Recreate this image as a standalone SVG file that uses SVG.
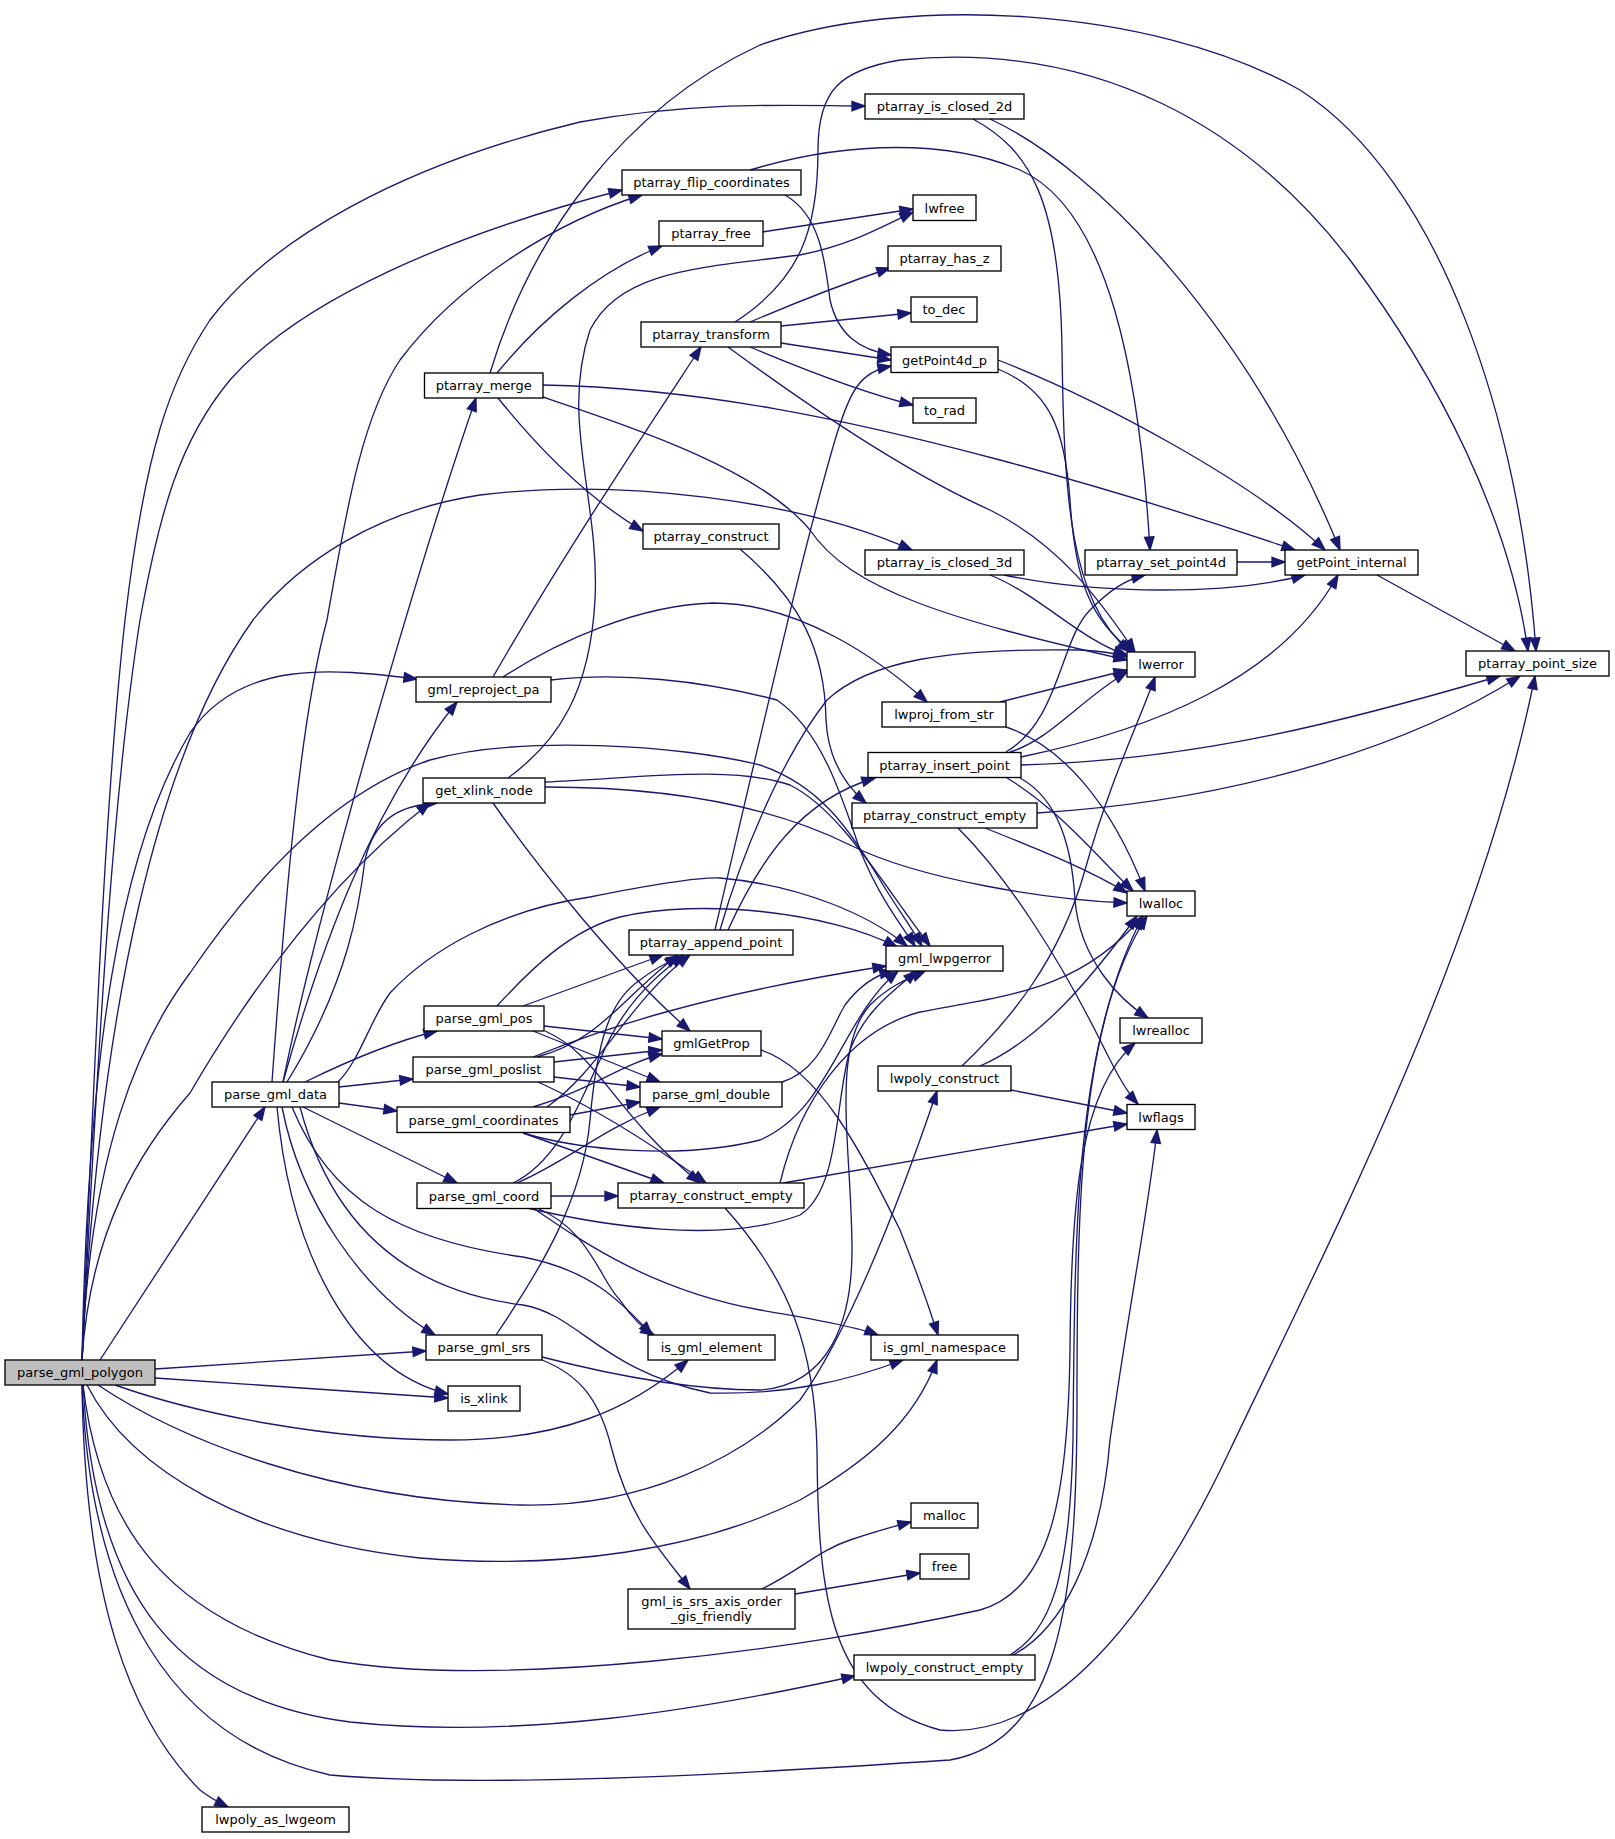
<svg xmlns="http://www.w3.org/2000/svg" width="1615" height="1839" viewBox="0 0 1615 1839">
<defs>
<style>
.node rect{fill:#ffffff;stroke:#000000;stroke-width:1.33}
.node.root rect{fill:#bfbfbf}
.node text{font-family:"DejaVu Sans","Liberation Sans",sans-serif;font-size:13px;text-anchor:middle;fill:#000000}
.edges path{fill:none;stroke:#191970;stroke-width:1.33;marker-end:url(#arr)}
</style>
<marker id="arr" markerUnits="userSpaceOnUse" markerWidth="14" markerHeight="10" refX="13" refY="4.7" orient="auto" overflow="visible">
<path d="M0,0 L13,4.7 L0,9.4 Z" fill="#191970" stroke="#191970" stroke-width="1.33"/>
</marker>
</defs>
<rect x="0" y="0" width="1615" height="1839" fill="#ffffff"/>
<g id="edges" class="edges">
<path d="M82,1360 C95,1050 105,800 125,620 C145,450 170,380 210,320 C270,240 400,165 580,122 C700,100 800,106 865,106"/>
<path d="M82,1360 C100,1000 115,780 140,620 C160,510 180,440 230,380 C300,300 450,235 622,190"/>
<path d="M82,1360 C100,1000 160,750 253,620 C300,560 380,510 480,495 C620,478 800,500 912,550"/>
<path d="M82,1360 C88,1050 120,850 190,733 C240,660 330,668 417,679"/>
<path d="M82,1360 C90,1230 140,1150 190,1093 C250,990 330,880 430,803"/>
<path d="M82,1360 C90,1150 140,1040 190,973 C260,870 340,790 430,760 C520,735 680,745 760,765 C820,785 850,830 880,880 C895,905 910,925 922,946"/>
<path d="M100,1360 L265,1107"/>
<path d="M155,1369 L426,1351"/>
<path d="M155,1378 L448,1398"/>
<path d="M115,1385 C200,1415 330,1440 450,1440 C560,1440 630,1410 688,1360"/>
<path d="M98,1385 C180,1440 330,1500 520,1505 C640,1508 740,1460 800,1400 C850,1330 900,1200 937,1091"/>
<path d="M87,1385 C130,1470 250,1540 420,1558 C560,1570 700,1550 800,1500 C870,1460 915,1420 937,1360"/>
<path d="M83,1385 C100,1530 170,1620 330,1660 C500,1690 800,1650 980,1610 C1050,1590 1068,1500 1070,1350 C1071,1200 1080,1090 1135,1043"/>
<path d="M83,1385 C95,1600 180,1700 350,1722 C520,1740 700,1710 855,1676"/>
<path d="M82,1385 C90,1600 170,1740 330,1775 C500,1790 800,1770 950,1760 C1060,1740 1077,1600 1077,1400 C1077,1200 1080,1020 1147,916"/>
<path d="M82,1385 C85,1600 130,1720 200,1790 C210,1798 220,1803 228,1807"/>
<path d="M272,1082 C285,900 300,720 327,620 C345,520 360,420 400,360 C460,280 560,220 642,195"/>
<path d="M283,1082 C320,900 420,560 476,398"/>
<path d="M283,1082 C320,950 370,810 457,702"/>
<path d="M287,1082 C350,980 360,900 365,860 C375,815 405,805 437,803"/>
<path d="M305,1082 C360,1055 400,1040 437,1031"/>
<path d="M339,1087 L413,1079"/>
<path d="M339,1103 L397,1111"/>
<path d="M303,1107 L457,1183"/>
<path d="M282,1107 C300,1200 360,1290 435,1335"/>
<path d="M277,1107 C290,1250 350,1370 448,1394"/>
<path d="M292,1107 C330,1200 400,1240 523,1257 C590,1270 620,1300 652,1335"/>
<path d="M300,1107 C330,1220 400,1290 523,1305 C580,1315 600,1370 710,1393 C790,1395 850,1380 903,1360"/>
<path d="M338,1082 C360,1060 370,1020 390,993 C430,950 500,910 590,897 C650,885 700,877 720,878 C800,885 870,915 907,946"/>
<path d="M523,1006 L663,955"/>
<path d="M544,1026 L662,1039"/>
<path d="M533,1031 L660,1082"/>
<path d="M545,1031 C600,1055 610,1110 700,1183"/>
<path d="M497,1006 C530,970 570,930 620,917 C700,898 830,912 897,947"/>
<path d="M537,1057 C600,1040 620,1000 678,955"/>
<path d="M533,1057 C600,1030 700,995 886,966"/>
<path d="M554,1062 L662,1050"/>
<path d="M554,1077 L640,1087"/>
<path d="M538,1082 C600,1110 660,1150 706,1183"/>
<path d="M533,1107 C590,1090 620,1065 662,1054"/>
<path d="M547,1107 C600,1070 630,1000 690,955"/>
<path d="M570,1115 L640,1102"/>
<path d="M523,1133 L664,1183"/>
<path d="M523,1133 C580,1150 680,1160 760,1140 C830,1110 840,1020 898,971"/>
<path d="M551,1196 L618,1196"/>
<path d="M513,1183 C560,1160 580,1100 600,1060 C620,1010 650,980 684,955"/>
<path d="M517,1183 C570,1160 600,1130 660,1107"/>
<path d="M527,1208 C600,1225 720,1245 800,1215 C840,1190 835,1100 850,1050 C865,1010 895,990 917,971"/>
<path d="M537,1208 C590,1230 600,1280 620,1300 C630,1315 640,1327 654,1335"/>
<path d="M533,1208 C580,1240 650,1290 760,1310 C820,1320 860,1328 878,1335"/>
<path d="M496,1335 C540,1270 583,1200 590,1120 C597,1040 610,1000 640,980 C655,968 668,962 680,957"/>
<path d="M542,1360 C580,1375 600,1400 612,1450 C630,1520 660,1550 690,1589"/>
<path d="M542,1357 C600,1372 680,1390 760,1390 C830,1385 852,1320 852,1250 C852,1150 830,1050 870,1005 C890,985 910,978 925,971"/>
<path d="M715,930 C760,740 800,560 835,440 C850,390 860,372 891,366"/>
<path d="M720,930 C740,860 780,760 827,700 C870,660 950,648 1080,650 C1100,651 1115,653 1127,657"/>
<path d="M728,930 C760,860 800,800 875,778"/>
<path d="M761,1050 C820,1070 860,1150 900,1230 C920,1280 930,1310 938,1335"/>
<path d="M782,1082 C820,1070 830,1030 845,1005 C860,985 875,975 893,971"/>
<path d="M725,1208 C790,1280 815,1350 817,1450 C818,1600 830,1700 940,1730 C1050,1740 1150,1620 1230,1450 C1330,1240 1480,950 1535,676"/>
<path d="M780,1183 C800,1100 850,1030 920,1012 C1010,995 1080,990 1143,916"/>
<path d="M783,1183 L1127,1124"/>
<path d="M962,1066 C1010,1020 1060,960 1085,870 C1110,780 1140,720 1155,677"/>
<path d="M980,1066 C1040,1040 1090,980 1137,916"/>
<path d="M1011,1090 L1127,1113"/>
<path d="M1010,1655 C1050,1630 1070,1580 1073,1440 C1075,1250 1072,1050 1143,916"/>
<path d="M1013,1655 C1060,1630 1100,1560 1110,1440 C1130,1300 1150,1200 1157,1130"/>
<path d="M762,1589 C800,1570 820,1550 850,1540 C880,1530 895,1526 911,1522"/>
<path d="M795,1594 L920,1573"/>
<path d="M740,549 C800,600 825,650 826,720 C828,760 845,785 866,803"/>
<path d="M497,373 C540,320 600,270 662,246"/>
<path d="M498,398 C540,450 590,500 643,531"/>
<path d="M543,385 C700,388 850,420 1000,460 C1150,500 1250,535 1295,550"/>
<path d="M543,397 C640,430 760,470 810,530 C850,590 950,620 1127,660"/>
<path d="M490,373 C530,240 620,110 760,45 C900,-5 1150,5 1300,90 C1440,180 1520,420 1536,651"/>
<path d="M735,322 C800,280 818,230 818,150 C818,90 840,70 900,60 C1100,40 1250,130 1350,260 C1440,380 1510,520 1528,651"/>
<path d="M750,322 C790,305 840,285 890,268"/>
<path d="M781,326 L911,313"/>
<path d="M781,343 L891,360"/>
<path d="M750,347 C800,368 860,392 913,405"/>
<path d="M728,347 C800,400 900,470 990,510 C1060,545 1100,600 1135,652"/>
<path d="M785,195 C820,215 825,260 830,300 C838,335 860,350 891,355"/>
<path d="M750,170 C850,140 950,140 1020,170 C1110,210 1140,380 1150,550"/>
<path d="M762,232 L913,209"/>
<path d="M973,119 C1030,150 1060,200 1062,350 C1064,500 1070,600 1130,652"/>
<path d="M990,119 C1100,170 1250,330 1340,550"/>
<path d="M998,369 C1050,390 1065,430 1070,500 C1075,580 1090,620 1133,652"/>
<path d="M998,360 C1100,400 1250,480 1325,550"/>
<path d="M1004,575 C1100,595 1230,595 1305,575"/>
<path d="M990,575 C1040,595 1080,640 1127,655"/>
<path d="M1237,562 L1285,562"/>
<path d="M1377,575 L1515,651"/>
<path d="M1021,765 C1200,760 1350,720 1500,676"/>
<path d="M1010,752 C1050,740 1080,700 1127,672"/>
<path d="M1006,752 C1060,720 1060,640 1090,610 C1110,590 1125,580 1145,575"/>
<path d="M1021,757 C1150,730 1280,680 1338,575"/>
<path d="M1007,778 C1060,810 1100,860 1133,891"/>
<path d="M1020,778 C1060,800 1072,850 1075,900 C1080,960 1120,1000 1148,1018"/>
<path d="M1037,813 C1250,800 1420,740 1520,676"/>
<path d="M958,828 C1010,880 1060,960 1100,1040 C1115,1070 1125,1090 1138,1104"/>
<path d="M985,828 C1040,850 1090,870 1127,893"/>
<path d="M1000,702 L1127,670"/>
<path d="M1006,727 C1060,745 1110,800 1145,891"/>
<path d="M493,677 C560,560 640,440 701,347"/>
<path d="M503,677 C560,640 640,605 713,603 C800,603 880,660 927,702"/>
<path d="M551,680 C620,672 700,680 777,700 C820,730 840,790 860,850 C880,900 905,930 915,946"/>
<path d="M508,778 C560,740 590,690 595,600 C600,500 560,420 590,330 C620,270 700,268 800,255 C850,245 880,228 913,212"/>
<path d="M545,787 C650,787 760,800 850,845 C920,880 1050,900 1127,903"/>
<path d="M545,782 C640,778 730,765 790,785 C840,810 880,880 930,946"/>
<path d="M493,803 C540,870 620,970 690,1031"/>
</g>
<g id="n_parse_gml_polygon" class="node root"><rect x="5" y="1360" width="150" height="25"/><text x="80" y="1377.3">parse_gml_polygon</text></g>
<g id="n_lwpoly_as_lwgeom" class="node"><rect x="202" y="1807" width="147" height="25"/><text x="275.5" y="1824.3">lwpoly_as_lwgeom</text></g>
<g id="n_is_xlink" class="node"><rect x="448" y="1386" width="72" height="25"/><text x="484" y="1403.3">is_xlink</text></g>
<g id="n_parse_gml_srs" class="node"><rect x="426" y="1335" width="116" height="25"/><text x="484" y="1352.3">parse_gml_srs</text></g>
<g id="n_parse_gml_data" class="node"><rect x="212" y="1082" width="127" height="25"/><text x="275.5" y="1099.3">parse_gml_data</text></g>
<g id="n_ptarray_merge" class="node"><rect x="424.5" y="373" width="118.5" height="25"/><text x="483.7" y="390.3">ptarray_merge</text></g>
<g id="n_gml_reproject_pa" class="node"><rect x="416" y="677" width="135" height="25"/><text x="483.5" y="694.3">gml_reproject_pa</text></g>
<g id="n_get_xlink_node" class="node"><rect x="423" y="778" width="122" height="25"/><text x="484" y="795.3">get_xlink_node</text></g>
<g id="n_parse_gml_pos" class="node"><rect x="424" y="1006" width="120" height="25"/><text x="484" y="1023.3">parse_gml_pos</text></g>
<g id="n_parse_gml_poslist" class="node"><rect x="413" y="1057" width="141" height="25"/><text x="483.5" y="1074.3">parse_gml_poslist</text></g>
<g id="n_parse_gml_coordinates" class="node"><rect x="397" y="1107" width="173" height="25.5"/><text x="483.5" y="1124.5">parse_gml_coordinates</text></g>
<g id="n_parse_gml_coord" class="node"><rect x="417" y="1183" width="134" height="25.5"/><text x="484" y="1200.5">parse_gml_coord</text></g>
<g id="n_ptarray_is_closed_2d" class="node"><rect x="865" y="94" width="159" height="25"/><text x="944.5" y="111.3">ptarray_is_closed_2d</text></g>
<g id="n_ptarray_flip_coordinates" class="node"><rect x="622" y="170" width="179" height="25"/><text x="711.5" y="187.3">ptarray_flip_coordinates</text></g>
<g id="n_ptarray_free" class="node"><rect x="659" y="221" width="104" height="25"/><text x="711" y="238.3">ptarray_free</text></g>
<g id="n_lwfree" class="node"><rect x="913" y="195" width="63" height="25.5"/><text x="944.5" y="212.5">lwfree</text></g>
<g id="n_ptarray_has_z" class="node"><rect x="888" y="246" width="113" height="25"/><text x="944.5" y="263.3">ptarray_has_z</text></g>
<g id="n_to_dec" class="node"><rect x="911" y="297" width="66" height="25"/><text x="944" y="314.3">to_dec</text></g>
<g id="n_ptarray_transform" class="node"><rect x="641" y="322" width="140" height="25"/><text x="711" y="339.3">ptarray_transform</text></g>
<g id="n_getPoint4d_p" class="node"><rect x="891" y="347" width="107" height="25.5"/><text x="944.5" y="364.5">getPoint4d_p</text></g>
<g id="n_to_rad" class="node"><rect x="913" y="398" width="63" height="25"/><text x="944.5" y="415.3">to_rad</text></g>
<g id="n_ptarray_construct" class="node"><rect x="643" y="524" width="136" height="25"/><text x="711" y="541.3">ptarray_construct</text></g>
<g id="n_ptarray_is_closed_3d" class="node"><rect x="865" y="550" width="159" height="25"/><text x="944.5" y="567.3">ptarray_is_closed_3d</text></g>
<g id="n_ptarray_set_point4d" class="node"><rect x="1085" y="550" width="152" height="25"/><text x="1161" y="567.3">ptarray_set_point4d</text></g>
<g id="n_getPoint_internal" class="node"><rect x="1285" y="550" width="133" height="25"/><text x="1351.5" y="567.3">getPoint_internal</text></g>
<g id="n_lwerror" class="node"><rect x="1127" y="652" width="68" height="25"/><text x="1161" y="669.3">lwerror</text></g>
<g id="n_ptarray_point_size" class="node"><rect x="1466" y="651" width="143" height="25"/><text x="1537.5" y="668.3">ptarray_point_size</text></g>
<g id="n_lwproj_from_str" class="node"><rect x="882" y="702" width="124" height="25"/><text x="944" y="719.3">lwproj_from_str</text></g>
<g id="n_ptarray_insert_point" class="node"><rect x="868" y="752.5" width="153" height="25"/><text x="944.5" y="769.8">ptarray_insert_point</text></g>
<g id="n_ptarray_construct_empty_a" class="node"><rect x="852" y="803" width="185" height="25"/><text x="944.5" y="820.3">ptarray_construct_empty</text></g>
<g id="n_lwalloc" class="node"><rect x="1127" y="891" width="68" height="25"/><text x="1161" y="908.3">lwalloc</text></g>
<g id="n_ptarray_append_point" class="node"><rect x="629" y="930" width="164" height="25"/><text x="711" y="947.3">ptarray_append_point</text></g>
<g id="n_gml_lwpgerror" class="node"><rect x="886" y="946" width="117" height="25"/><text x="944.5" y="963.3">gml_lwpgerror</text></g>
<g id="n_gmlGetProp" class="node"><rect x="662" y="1031" width="99" height="25"/><text x="711.5" y="1048.3">gmlGetProp</text></g>
<g id="n_lwrealloc" class="node"><rect x="1120" y="1018" width="82" height="25"/><text x="1161" y="1035.3">lwrealloc</text></g>
<g id="n_lwpoly_construct" class="node"><rect x="878" y="1066" width="133" height="25"/><text x="944.5" y="1083.3">lwpoly_construct</text></g>
<g id="n_parse_gml_double" class="node"><rect x="640" y="1082" width="142" height="25"/><text x="711" y="1099.3">parse_gml_double</text></g>
<g id="n_lwflags" class="node"><rect x="1127" y="1104.5" width="68" height="25"/><text x="1161" y="1121.8">lwflags</text></g>
<g id="n_ptarray_construct_empty_b" class="node"><rect x="618" y="1183" width="186" height="25"/><text x="711" y="1200.3">ptarray_construct_empty</text></g>
<g id="n_is_gml_element" class="node"><rect x="648" y="1335" width="127" height="25"/><text x="711.5" y="1352.3">is_gml_element</text></g>
<g id="n_is_gml_namespace" class="node"><rect x="871" y="1335" width="147" height="25"/><text x="944.5" y="1352.3">is_gml_namespace</text></g>
<g id="n_malloc" class="node"><rect x="911" y="1503" width="67" height="25"/><text x="944.5" y="1520.3">malloc</text></g>
<g id="n_free" class="node"><rect x="920" y="1554" width="49" height="25"/><text x="944.5" y="1571.3">free</text></g>
<g id="n_gml_is_srs_axis_order_gis_friendly" class="node"><rect x="628" y="1589" width="167" height="40"/><text x="711.5" y="1605.5">gml_is_srs_axis_order</text><text x="711.5" y="1620.5">_gis_friendly</text></g>
<g id="n_lwpoly_construct_empty" class="node"><rect x="854" y="1655" width="181" height="25"/><text x="944.5" y="1672.3">lwpoly_construct_empty</text></g>
</svg>
